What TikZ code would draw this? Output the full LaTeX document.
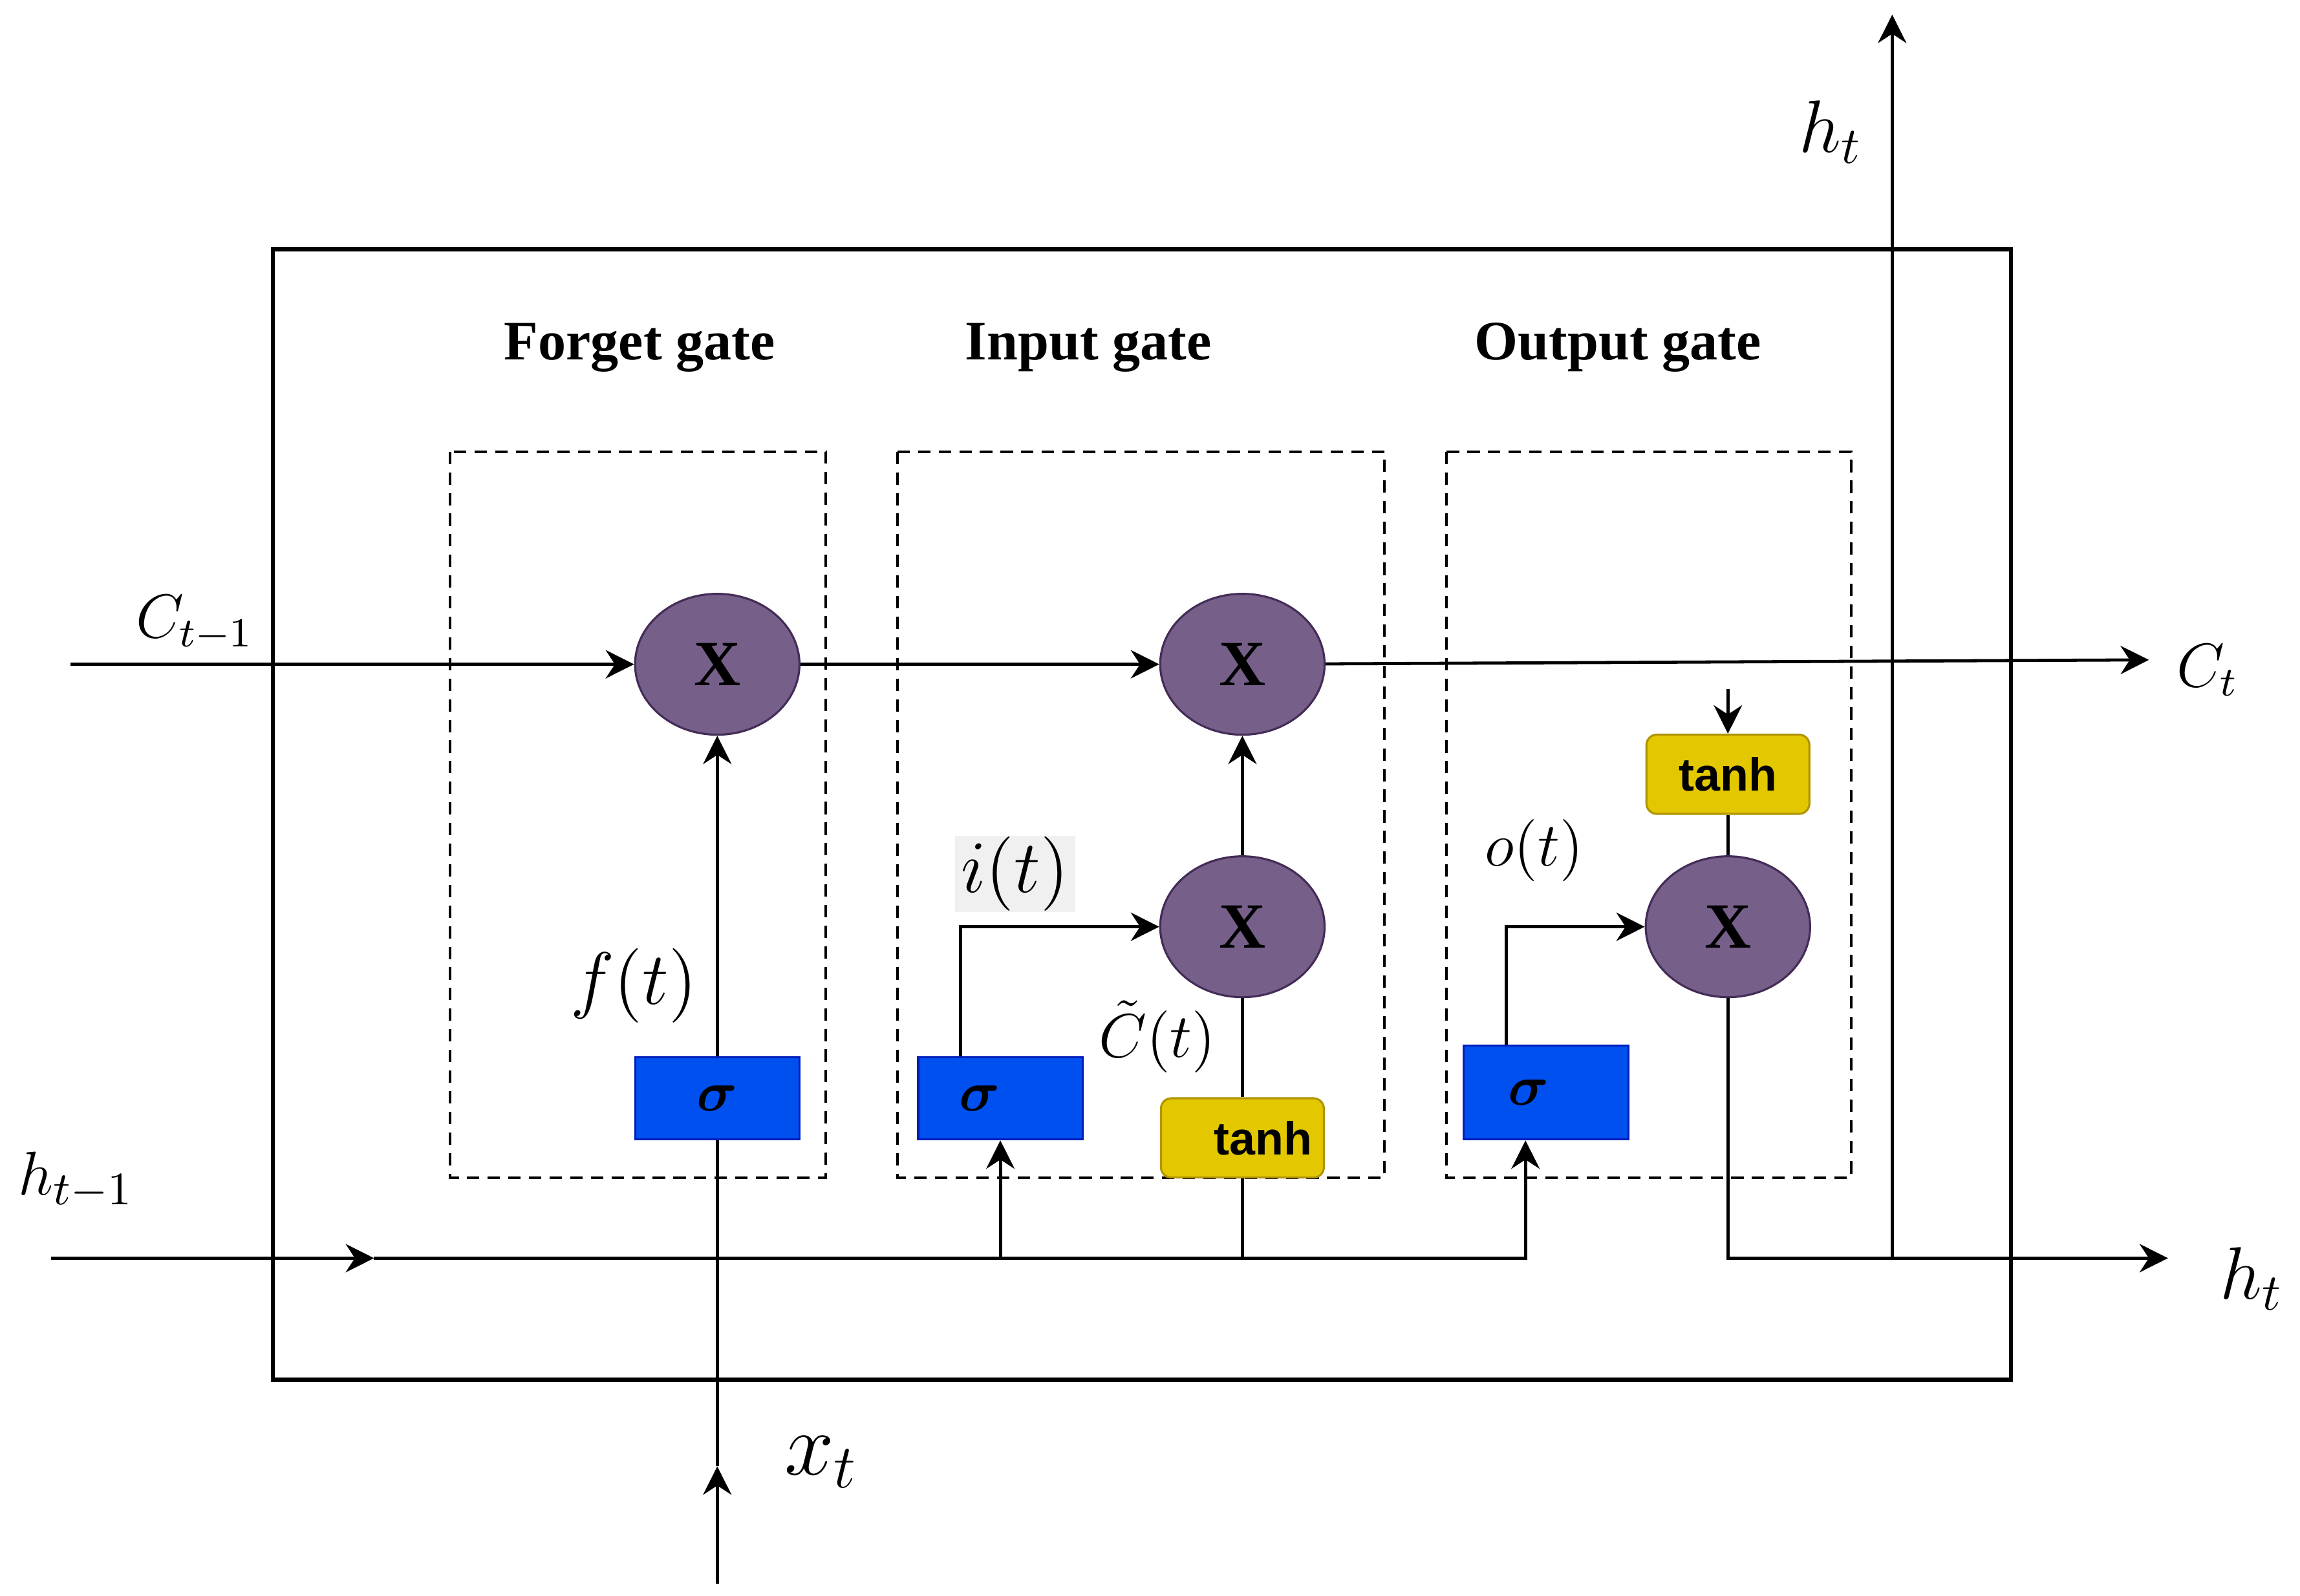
\documentclass[tikz,border=0pt]{standalone}
\usepackage{amsmath}
\usepackage{fontspec}
\setmainfont{Liberation Serif}
\setsansfont{Liberation Sans}
\usepackage{tikz}
\usetikzlibrary{arrows.meta,shapes.geometric}
\definecolor{multfill}{HTML}{76608A}
\definecolor{multline}{HTML}{432D57}
\definecolor{sigfill}{HTML}{0050EF}
\definecolor{sigline}{HTML}{001DBC}
\definecolor{tanhfill}{HTML}{E3C800}
\definecolor{tanhline}{HTML}{B09500}
\definecolor{labelback}{HTML}{F0F0F0}

\tikzset{
  wire/.style={line width=0.6pt},
  flow/.style={wire, -{Stealth[length=5.5pt,width=5.5pt]}},
  gatebox/.style={line width=0.5pt, dash pattern=on 2.4pt off 1.6pt},
  mult/.style={ellipse, draw=multline, fill=multfill, minimum width=1.12cm, minimum height=0.96cm, inner sep=0pt, font=\bfseries\fontsize{12.5}{12.5}\selectfont},
  sigbox/.style={rectangle, draw=sigline, fill=sigfill, minimum width=1.12cm, minimum height=0.56cm, inner sep=0pt, font=\fontsize{11}{11}\selectfont},
  tanhbox/.style={rectangle, rounded corners=2pt, draw=tanhline, fill=tanhfill, minimum width=1.11cm, minimum height=0.54cm, inner sep=0pt, font=\sffamily\bfseries\fontsize{9}{9}\selectfont},
  gatetitle/.style={font=\bfseries\fontsize{10.8}{10.8}\selectfont},
  mathlabel/.style={inner sep=0pt, font=\fontsize{#1}{#1}\selectfont}
}

\begin{document}
\begin{tikzpicture}[x=0.01cm, y=-0.01cm]
\useasboundingbox (0,0) rectangle (1568,1088);
\draw[line width=0.8pt] (186,170) rectangle (1371,941);
\draw[gatebox] (307,308) rectangle (563,803);
\draw[gatebox] (612,308) rectangle (944,803);
\draw[gatebox] (986,308) rectangle (1262,803);

\node[gatetitle] (ftitle) at (436,237) {Forget gate};
\node[gatetitle] (ititle) at (742,237) {Input gate};
\node[gatetitle] (otitle) at (1103,237) {Output gate};

\node[mult] (fx) at (489,453) {X};
\node[mult] (ix) at (847,453) {X};
\node[mult] (cx) at (847,632) {X};
\node[mult] (ox) at (1178,632) {X};
\node[sigbox] (fs) at (489,749) {$\boldsymbol{\sigma}$};
\node[sigbox] (is) at (682,749) {\hspace*{-0.28cm}$\boldsymbol{\sigma}$};
\node[sigbox, minimum height=0.64cm] (os) at (1054,745) {\hspace*{-0.24cm}$\boldsymbol{\sigma}$};
\node[tanhbox] (it) at (847,776) {\hspace*{8pt}tanh};
\node[tanhbox] (ot) at (1178,528) {tanh};

\coordinate (cin) at (48,453);
\coordinate (cout) at (1465,450);
\coordinate (hin) at (35,858);
\coordinate (hmid) at (255,858);
\coordinate (hout) at (1478,858);
\coordinate (hup) at (1290,10);
\coordinate (xin) at (489,1080);
\coordinate (xmid) at (489,1000);
\coordinate (ctap) at (1178,470);
\coordinate (hturn) at ([xshift=-0.14cm]os.south);

\draw[flow] (cin) -- (fx);
\draw[flow] (fx) -- (ix);
\draw[flow] (ix) -- (cout);
\draw[flow] (xin) -- (xmid);
\draw[wire] (xmid) -- (fs);
\draw[flow] (fs) -- (fx);
\draw[flow] (hin) -- (hmid);
\draw[flow] (hmid) -- (hin -| hturn) -- (hturn);
\draw[flow] (hin -| is.south) -- (is.south);
\draw[wire] (hin -| it.south) -- (it.south);
\draw[flow] ([xshift=-0.27cm]is.north) |- (cx.west);
\draw[wire] (it) -- (cx);
\draw[flow] (cx) -- (ix);
\draw[flow] ([xshift=-0.27cm]os.north) |- (ox.west);
\draw[flow] (ctap) -- (ot);
\draw[wire] (ot) -- (ox);
\draw[flow] (ox.south) |- (hout);
\draw[flow] (hout -| hup) -- (hup);

\node[mathlabel=12] (cprev) at (133,425) {$C_{t-1}$};
\node[mathlabel=12] (cnext) at (1505,457) {$C_t$};
\node[mathlabel=13] (hprev) at (52,805) {$h_{t-1}$};
\node[mathlabel=14] (hnext) at (1535,872) {$h_t$};
\node[mathlabel=14] (htop) at (1248,90) {$h_t$};
\node[mathlabel=17] (xlab) at (560,997) {$x_t$};
\node[mathlabel=15] (flab) at (432,672) {$f(t)$};
\node[mathlabel=14, fill=labelback, minimum width=0.82cm, minimum height=0.52cm] (ilab) at (692,596) {$i(t)$};
\node[mathlabel=13] (olab) at (1046,580) {$o(t)$};
\node[mathlabel=13] (ctlab) at (789,707) {$\tilde{C}(t)$};
\end{tikzpicture}
\end{document}
